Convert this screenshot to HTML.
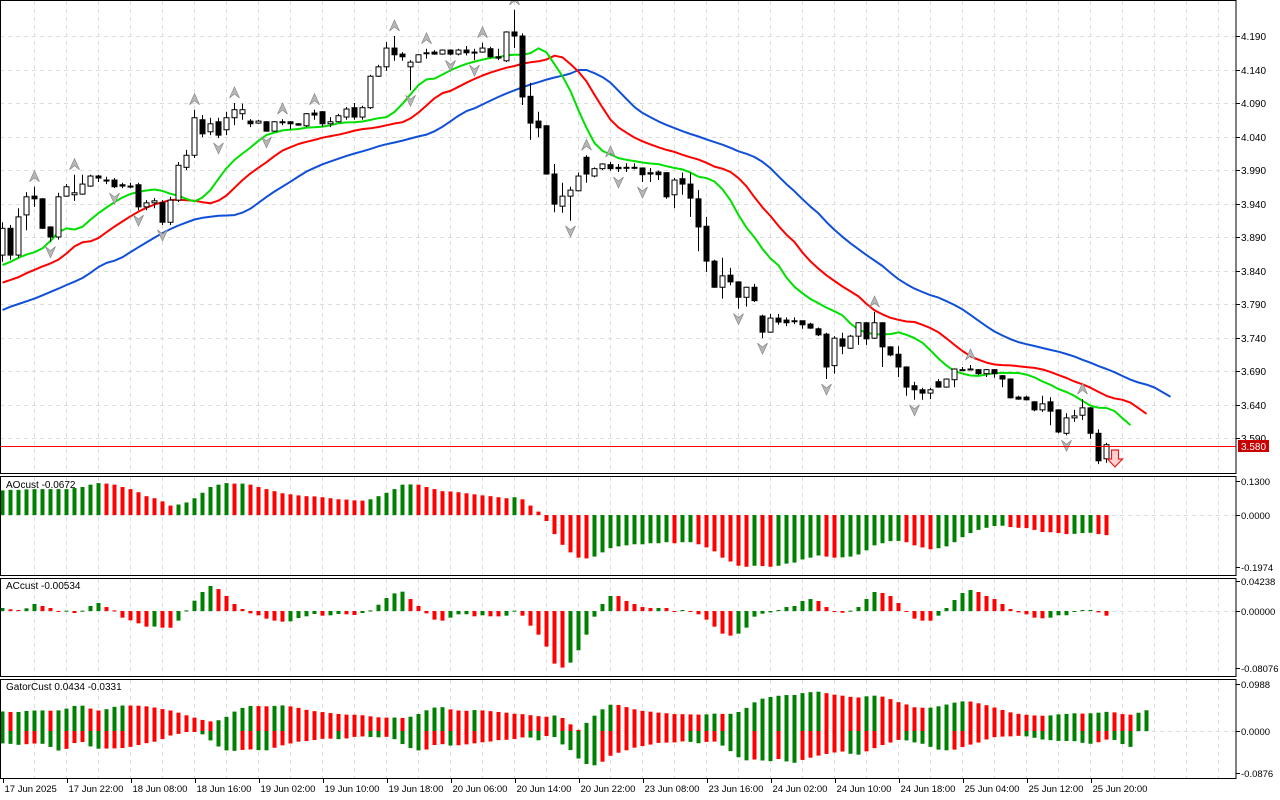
<!DOCTYPE html>
<html><head><meta charset="utf-8"><title>Chart</title>
<style>
html,body{margin:0;padding:0;background:#fff;}
svg{display:block;font-family:"Liberation Sans",sans-serif;}
</style></head>
<body>
<svg id="chart" width="1280" height="800" viewBox="0 0 1280 800" xmlns="http://www.w3.org/2000/svg">
<rect x="0" y="0" width="1280" height="800" fill="#fff"/>
</svg>
<script>
const opens=[3.863,3.903,3.863,3.923,3.951,3.947,3.905,3.890,3.951,3.953,
3.954,3.966,3.981,3.975,3.975,3.968,3.966,3.968,3.935,3.941,
3.941,3.912,3.945,3.994,4.012,4.065,4.047,4.062,4.050,4.068,
4.074,4.063,4.060,4.062,4.048,4.062,4.062,4.059,4.056,4.075,
4.077,4.059,4.062,4.069,4.083,4.069,4.083,4.130,4.144,4.172,
4.163,4.144,4.151,4.165,4.166,4.163,4.169,4.163,4.169,4.166,
4.166,4.171,4.159,4.153,4.196,4.190,4.100,4.063,4.056,3.984,
3.936,3.951,3.959,4.009,3.981,3.992,3.998,3.994,3.994,3.994,
3.993,3.986,3.987,3.986,3.953,3.977,3.969,3.947,3.906,3.854,
3.815,3.833,3.823,3.800,3.815,3.772,3.748,3.769,3.766,3.765,
3.765,3.760,3.753,3.745,3.698,3.738,3.724,3.742,3.762,3.739,
3.762,3.726,3.715,3.696,3.668,3.662,3.657,3.674,3.666,3.677,
3.692,3.693,3.692,3.686,3.692,3.683,3.678,3.651,3.651,3.644,
3.632,3.644,3.632,3.597,3.620,3.624,3.635,3.597,3.559];
const highs=[3.912,3.908,3.933,3.957,3.965,3.948,3.906,3.956,3.969,3.983,
3.983,3.983,3.983,3.980,3.978,3.971,3.971,3.971,3.945,3.948,
3.945,3.950,4.002,4.020,4.080,4.072,4.068,4.068,4.077,4.090,
4.089,4.066,4.065,4.063,4.063,4.066,4.063,4.060,4.075,4.080,
4.078,4.069,4.074,4.084,4.090,4.086,4.132,4.147,4.181,4.190,
4.166,4.154,4.163,4.171,4.169,4.170,4.170,4.171,4.175,4.171,
4.180,4.174,4.171,4.197,4.229,4.194,4.120,4.077,4.057,3.999,
3.971,3.965,3.986,4.012,3.994,4.000,4.002,3.999,4.000,4.000,
3.994,3.993,3.989,3.987,3.978,3.986,3.986,3.960,3.920,3.856,
3.859,3.844,3.824,3.816,3.820,3.774,3.775,3.775,3.770,3.770,
3.765,3.762,3.755,3.747,3.742,3.747,3.744,3.763,3.763,3.778,
3.763,3.727,3.727,3.697,3.674,3.665,3.665,3.678,3.679,3.694,
3.696,3.699,3.693,3.693,3.693,3.684,3.679,3.653,3.653,3.645,
3.653,3.651,3.633,3.627,3.632,3.648,3.636,3.603,3.583];
const lows=[3.853,3.856,3.859,3.900,3.935,3.902,3.883,3.886,3.950,3.944,
3.953,3.965,3.972,3.969,3.963,3.963,3.963,3.930,3.930,3.933,
3.908,3.908,3.942,3.990,4.008,4.039,4.042,4.038,4.042,4.057,
4.065,4.054,4.059,4.047,4.047,4.057,4.050,4.056,4.054,4.065,
4.054,4.054,4.061,4.065,4.065,4.065,4.081,4.129,4.138,4.153,
4.153,4.109,4.150,4.156,4.162,4.162,4.161,4.161,4.161,4.154,
4.165,4.157,4.154,4.151,4.172,4.087,4.035,4.039,3.983,3.927,
3.926,3.914,3.958,3.971,3.979,3.990,3.989,3.987,3.987,3.991,
3.972,3.972,3.975,3.947,3.933,3.953,3.920,3.869,3.838,3.814,
3.798,3.818,3.783,3.786,3.793,3.739,3.747,3.759,3.757,3.760,
3.753,3.753,3.742,3.678,3.686,3.715,3.723,3.729,3.729,3.738,
3.696,3.712,3.681,3.653,3.647,3.647,3.648,3.665,3.665,3.666,
3.690,3.691,3.684,3.681,3.680,3.666,3.649,3.647,3.646,3.630,
3.629,3.609,3.597,3.594,3.614,3.617,3.589,3.551,3.553];
const closes=[3.903,3.863,3.920,3.950,3.947,3.903,3.890,3.950,3.965,3.956,
3.969,3.981,3.978,3.974,3.965,3.966,3.965,3.935,3.941,3.944,
3.912,3.945,3.997,4.012,4.068,4.044,4.059,4.042,4.068,4.080,
4.080,4.059,4.063,4.048,4.062,4.061,4.059,4.057,4.074,4.072,
4.059,4.062,4.071,4.081,4.069,4.083,4.130,4.144,4.172,4.162,
4.159,4.151,4.162,4.164,4.163,4.169,4.163,4.169,4.165,4.165,
4.172,4.159,4.157,4.196,4.190,4.099,4.060,4.053,3.984,3.939,
3.951,3.960,3.981,3.984,3.992,3.999,3.992,3.992,3.993,3.993,
3.983,3.984,3.983,3.950,3.975,3.969,3.948,3.905,3.854,3.815,
3.832,3.823,3.800,3.815,3.795,3.748,3.769,3.763,3.762,3.764,
3.759,3.754,3.744,3.696,3.739,3.727,3.742,3.762,3.738,3.762,
3.726,3.714,3.696,3.666,3.662,3.657,3.662,3.666,3.678,3.693,
3.691,3.692,3.686,3.692,3.686,3.678,3.650,3.648,3.647,3.632,
3.641,3.630,3.599,3.620,3.623,3.635,3.597,3.556,3.580];
const lipsLead=[3.848,3.853,3.859];
const teethLead=[3.822,3.826,3.830,3.836,3.841];
const jawLead=[3.781,3.786,3.790,3.794,3.798,3.803,3.808,3.813];
const aoValues=[0.094,0.096,0.096,0.098,0.099,0.099,0.099,0.099,0.099,0.103,
0.107,0.116,0.122,0.120,0.116,0.107,0.099,0.087,0.072,0.064,
0.052,0.036,0.040,0.048,0.064,0.085,0.107,0.116,0.122,0.120,
0.120,0.116,0.107,0.099,0.091,0.083,0.079,0.075,0.072,0.071,
0.068,0.064,0.060,0.059,0.056,0.055,0.060,0.072,0.085,0.099,
0.116,0.117,0.116,0.107,0.099,0.091,0.090,0.087,0.083,0.079,
0.075,0.072,0.068,0.064,0.068,0.060,0.036,0.013,-0.023,-0.073,
-0.114,-0.143,-0.163,-0.166,-0.159,-0.143,-0.127,-0.120,-0.116,-0.112,
-0.112,-0.108,-0.108,-0.104,-0.108,-0.104,-0.104,-0.112,-0.124,-0.139,
-0.163,-0.178,-0.194,-0.198,-0.194,-0.195,-0.198,-0.194,-0.186,-0.182,
-0.170,-0.163,-0.155,-0.159,-0.163,-0.162,-0.159,-0.151,-0.135,-0.116,
-0.108,-0.100,-0.099,-0.104,-0.116,-0.124,-0.131,-0.127,-0.120,-0.104,
-0.085,-0.069,-0.057,-0.049,-0.042,-0.041,-0.046,-0.049,-0.050,-0.057,
-0.065,-0.066,-0.069,-0.073,-0.072,-0.069,-0.068,-0.073,-0.077];
const acValues=[0.0042,0.0024,0.0014,0.0038,0.0099,0.0071,0.0042,0.0002,0.0005,-0.0028,
0.0005,0.0071,0.0113,0.0056,0.0009,-0.0094,-0.0132,-0.0174,-0.0221,-0.0220,
-0.0235,-0.0236,-0.0136,0.0009,0.0146,0.0268,0.0353,0.0310,0.0212,0.0099,
0.0028,-0.0033,-0.0061,-0.0108,-0.0136,-0.0150,-0.0146,-0.0099,-0.0075,-0.0042,
-0.0066,-0.0061,-0.0042,-0.0047,-0.0056,-0.0028,0.0009,0.0089,0.0183,0.0249,
0.0273,0.0169,0.0071,-0.0033,-0.0122,-0.0136,-0.0094,-0.0047,-0.0046,-0.0075,
-0.0061,-0.0075,-0.0076,-0.0066,0.0005,-0.0066,-0.0207,-0.0334,-0.0503,-0.0743,
-0.0799,-0.0729,-0.0555,-0.0334,-0.0080,0.0099,0.0212,0.0211,0.0141,0.0099,
0.0056,0.0042,0.0043,0.0042,-0.0009,0.0014,-0.0009,-0.0047,-0.0122,-0.0221,
-0.0320,-0.0348,-0.0320,-0.0235,-0.0080,-0.0038,-0.0019,0.0014,0.0056,0.0071,
0.0141,0.0169,0.0141,0.0056,-0.0009,-0.0024,0.0005,0.0056,0.0169,0.0268,
0.0254,0.0212,0.0113,-0.0009,-0.0108,-0.0136,-0.0137,-0.0066,0.0042,0.0155,
0.0254,0.0296,0.0268,0.0212,0.0169,0.0099,0.0028,-0.0019,-0.0047,-0.0094,
-0.0103,-0.0094,-0.0061,-0.0060,-0.0014,0.0014,0.0015,-0.0019,-0.0066];
const timeLabels=["17 Jun 2025","17 Jun 22:00","18 Jun 08:00","18 Jun 16:00","19 Jun 02:00","19 Jun 10:00","19 Jun 18:00","20 Jun 06:00","20 Jun 14:00","20 Jun 22:00","23 Jun 08:00","23 Jun 16:00","24 Jun 02:00","24 Jun 10:00","24 Jun 18:00","25 Jun 04:00","25 Jun 12:00","25 Jun 20:00"];
const priceTicks=[4.190,4.140,4.090,4.040,3.990,3.940,3.890,3.840,3.790,3.740,3.690,3.640,3.590];
const currentPrice=3.580;
const aoTicks=[0.1300,0,-0.1974];
const acTicks=[0.04238,0,-0.08076];
const gatorTicks=[0.0988,0,-0.0876];

const svg=document.getElementById('chart');
const NS='http://www.w3.org/2000/svg';
function mk(tag,attrs,parent){const e=document.createElementNS(NS,tag);for(const k in attrs)e.setAttribute(k,attrs[k]);(parent||svg).appendChild(e);return e;}
const PLOT_R=1236;
function xAt(i){return 2.5+8*i;}
function yPrice(p){return 36+(4.19-p)*670;}
function yAO(v){return 515-v*261.5;}
function yAC(v){return 611-v*708;}
function yGator(v){return 731-v*476;}
const GRID='#dcdcdc';
const panels=[[0,473],[476,575],[578,676],[679,778]];
const names=['main-panel','ao-panel','ac-panel','gator-panel'];
panels.forEach((p,pi)=>{
  for(let i=4;xAt(i)<PLOT_R;i+=4){
    const l=mk('line',{x1:xAt(i),x2:xAt(i),y1:p[0]+1,y2:p[1],stroke:GRID,'stroke-dasharray':'4 4','stroke-width':1});
    
    
  }
});
priceTicks.forEach(t=>{
  const y=Math.round(yPrice(t))+0.5;
  const l=mk('line',{x1:0,x2:PLOT_R,y1:y,y2:y,stroke:GRID,'stroke-dasharray':'4 4'});
  
  
  const tk=mk('line',{x1:PLOT_R,x2:PLOT_R+4,y1:y,y2:y,stroke:'#000'});
  
  
  const tx=mk('text',{x:1241,y:y+3.5,'font-size':10,fill:'#000'});
  tx.textContent=t.toFixed(3);
  
  
});
[[aoTicks,yAO,4],[acTicks,yAC,5],[gatorTicks,yGator,4]].forEach(([ticks,fy,dp])=>{
  ticks.forEach(t=>{
    const y=Math.round(fy(t))+0.5;
    if(t===0){
      const g=mk('line',{x1:0,x2:PLOT_R,y1:y,y2:y,stroke:GRID,'stroke-dasharray':'4 4'});
      
      
    }
    const tk=mk('line',{x1:PLOT_R,x2:PLOT_R+4,y1:y,y2:y,stroke:'#000'});
    
    
    const tx=mk('text',{x:1241,y:y+3.5,'font-size':9.5,fill:'#000'});
    tx.textContent=t.toFixed(dp);
    
    
  });
});
timeLabels.forEach((s,k)=>{
  const x=xAt(k*8);
  const tk=mk('line',{x1:Math.round(x)+0.5,x2:Math.round(x)+0.5,y1:779,y2:783,stroke:'#000'});
  
  
  const tx=mk('text',{x:x+2,y:792,'font-size':9.5,fill:'#000'});
  tx.textContent=s;
  
  
});
function median(i){return (highs[i]+lows[i])/2;}
function smmaLine(lead,n){
  const out=lead.slice();let prev=lead[lead.length-1];
  for(let i=0;i<closes.length;i++){prev=(prev*(n-1)+median(i))/n;out.push(prev);}
  return out;
}
const jaw=smmaLine(jawLead,13), teeth=smmaLine(teethLead,8), lips=smmaLine(lipsLead,5);
const clipMain=mk('clipPath',{id:'cm'});mk('rect',{x:0,y:0,width:PLOT_R,height:473},clipMain);
const mainG=mk('g',{'clip-path':'url(#cm)'});
function drawLine(vals,color,name){
  const pts=vals.map((v,i)=>xAt(i).toFixed(1)+','+yPrice(v).toFixed(1)).join(' ');
  const pl=mk('polyline',{points:pts,fill:'none',stroke:color,'stroke-width':2,'stroke-linejoin':'round'},mainG);
  
  
}
drawLine(jaw,'#1050d8','alligator-jaw-line');
drawLine(teeth,'#ff0000','alligator-teeth-line');
drawLine(lips,'#00e000','alligator-lips-line');
for(let i=0;i<closes.length;i++){
  const x=xAt(i),o=opens[i],c=closes[i];
  const w=mk('line',{x1:x,x2:x,y1:yPrice(highs[i]),y2:yPrice(lows[i]),stroke:'#000','stroke-width':1},mainG);
  
  
  const top=yPrice(Math.max(o,c)),bot=yPrice(Math.min(o,c));
  const h=Math.max(1,bot-top);
  const b=mk('rect',{x:x-2.5,y:top,width:5,height:h,fill:c>=o?'#fff':'#000',stroke:'#000','stroke-width':1},mainG);
  
  
}
for(let i=2;i<closes.length-2;i++){
  const x=xAt(i);
  if(highs[i]>highs[i-1]&&highs[i]>highs[i-2]&&highs[i]>=highs[i+1]&&highs[i]>=highs[i+2]){
    const t=yPrice(highs[i])-16;
    const a=mk('polygon',{points:`${x},${t} ${x+5},${t+11} ${x},${t+7} ${x-5},${t+11}`,fill:'#b8b8b8',stroke:'#888','stroke-width':0.7},mainG);
    
    
  }
  if(lows[i]<lows[i-1]&&lows[i]<lows[i-2]&&lows[i]<=lows[i+1]&&lows[i]<=lows[i+2]){
    const t=yPrice(lows[i])+16;
    const a=mk('polygon',{points:`${x},${t} ${x+5},${t-11} ${x},${t-7} ${x-5},${t-11}`,fill:'#b8b8b8',stroke:'#888','stroke-width':0.7},mainG);
    
    
  }
}
{const x=xAt(closes.length)+0.5,t=450;
const a=mk('polygon',{points:`${x-3.5},${t} ${x+3.5},${t} ${x+3.5},${t+9} ${x+7.5},${t+9} ${x},${t+17} ${x-7.5},${t+9} ${x-3.5},${t+9}`,fill:'#ffd0d0',stroke:'#e02020','stroke-width':1.2});

}
function bars(vals,fy,name,colorFn){
  vals.forEach((v,i)=>{
    const y0=fy(0),y1=fy(v);
    const r=mk('rect',{x:xAt(i)-2,y:Math.min(y0,y1),width:4,height:Math.max(1,Math.abs(y1-y0)),fill:colorFn(i)});
    
    
  });
}
const G='#008000',R='#ff0000';
bars(aoValues,yAO,'ao-bar',i=>i>0&&aoValues[i]<aoValues[i-1]?R:G);
bars(acValues,yAC,'ac-bar',i=>i>0&&acValues[i]<acValues[i-1]?R:G);
const nUp=Math.min(jaw.length,teeth.length), nDn=Math.min(teeth.length,lips.length);
const gatorUp=[],gatorDn=[];
for(let i=0;i<nUp;i++)gatorUp.push(Math.abs(jaw[i]-teeth[i]));
for(let i=0;i<nDn;i++)gatorDn.push(-Math.abs(teeth[i]-lips[i]));
bars(gatorUp,yGator,'gator-upper-bar',i=>i>0&&gatorUp[i]<gatorUp[i-1]?R:G);
bars(gatorDn,yGator,'gator-lower-bar',i=>i>0&&Math.abs(gatorDn[i])<Math.abs(gatorDn[i-1])?R:G);
panels.forEach((p,pi)=>{
  const r=mk('rect',{x:0.5,y:p[0]+0.5,width:PLOT_R-0.5,height:p[1]-p[0],fill:'none',stroke:'#000','stroke-width':1});
  
  
});
[['AOcust -0.0672',488],['ACcust -0.00534',589],['GatorCust 0.0434 -0.0331',690]].forEach(([s,y])=>{
  const t=mk('text',{x:6,y:y,'font-size':10,fill:'#000'});
  t.textContent=s;
  
  
});
const cy=Math.round(yPrice(currentPrice))+1.5;
const cl=mk('line',{x1:1,x2:PLOT_R,y1:cy,y2:cy,stroke:'#ff0000','stroke-width':1});


const cb=mk('rect',{x:1238,y:cy-6.5,width:31,height:12,fill:'#c80000'});


const ct=mk('text',{x:1241,y:cy+3.5,'font-size':10,fill:'#fff'});
ct.textContent=currentPrice.toFixed(3);


</script>
</body></html>
